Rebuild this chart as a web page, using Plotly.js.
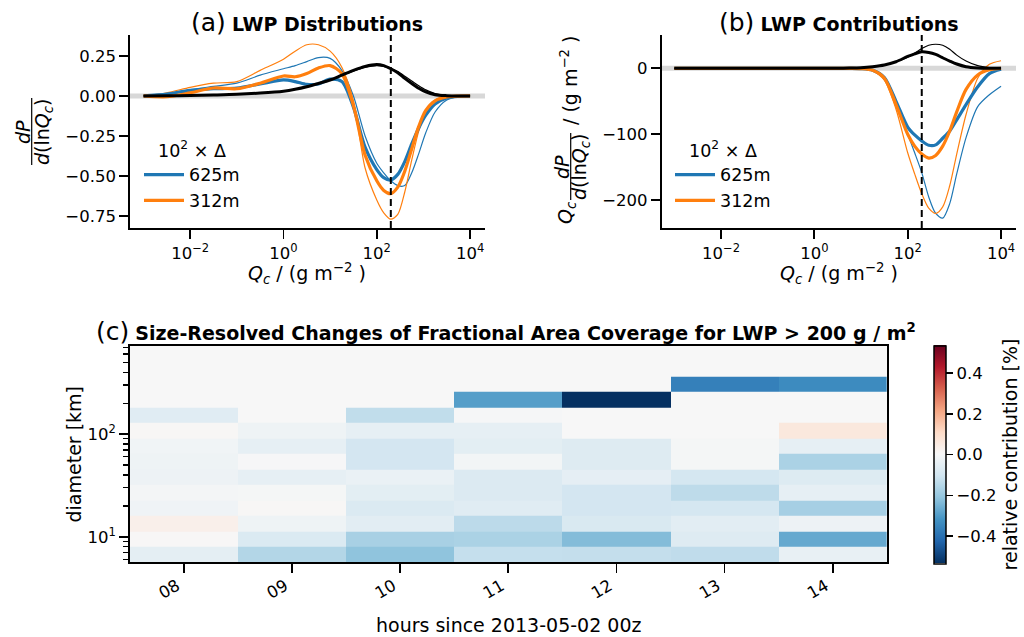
<!DOCTYPE html>
<html><head><meta charset="utf-8">
<script src="https://cdn.plot.ly/plotly-3.0.1.min.js"></script>
<style>html,body{margin:0;padding:0;background:#fff;} #chart{width:1024px;height:637px;}</style>
</head><body><div id="chart"></div>
<script>
// ---------------- data ----------------
const qc = [0.001, 0.00316, 0.01, 0.0316, 0.1, 0.316, 1, 1.78, 3.16, 5.62, 10, 17.8, 31.6, 56.2, 100, 141, 200, 282, 398, 562, 794, 1122, 1778, 3162, 5623, 10000];

// panel (a): dP/dlnQc
const distBlueThick   = [0, 0.012, 0.035, 0.045, 0.05, 0.075, 0.10, 0.09, 0.072, 0.075, 0.105, 0.09, -0.07, -0.32, -0.46, -0.51, -0.525, -0.49, -0.41, -0.30, -0.20, -0.12, -0.05, -0.012, -0.002, 0];
const distOrangeThick = [0, -0.005, 0.02, 0.05, 0.045, 0.08, 0.125, 0.12, 0.14, 0.175, 0.19, 0.14, -0.06, -0.37, -0.53, -0.59, -0.61, -0.57, -0.47, -0.33, -0.19, -0.09, -0.03, -0.006, -0.001, 0];
const distBlueThin    = [0, 0.015, 0.04, 0.06, 0.08, 0.13, 0.17, 0.19, 0.215, 0.24, 0.235, 0.16, 0.0, -0.25, -0.42, -0.48, -0.53, -0.56, -0.56, -0.48, -0.36, -0.23, -0.10, -0.025, -0.004, 0];
const distOrangeThin  = [0, 0.02, 0.054, 0.08, 0.09, 0.16, 0.23, 0.28, 0.32, 0.32, 0.28, 0.18, -0.03, -0.45, -0.65, -0.73, -0.77, -0.74, -0.60, -0.40, -0.22, -0.10, -0.025, -0.005, 0, 0];
const distBlackThick  = [0, 0.001, 0.003, 0.006, 0.01, 0.018, 0.03, 0.042, 0.058, 0.078, 0.1, 0.13, 0.16, 0.185, 0.197, 0.19, 0.17, 0.145, 0.11, 0.078, 0.048, 0.025, 0.008, 0.002, 0, 0];
const distBlackThin   = [0, 0.001, 0.003, 0.006, 0.01, 0.018, 0.03, 0.042, 0.058, 0.078, 0.1, 0.128, 0.155, 0.178, 0.19, 0.185, 0.172, 0.152, 0.124, 0.094, 0.064, 0.038, 0.015, 0.003, 0, 0];

// panel (b): Qc dP/dlnQc
const contBlueThick   = [0, 0, 0, 0, 0, 0, 0, 0, 0, -0.1, -0.5, -3, -14, -50, -89, -101, -110, -116.5, -116, -106, -95, -78, -55, -28, -8, -1.5];
const contOrangeThick = [0, 0, 0, 0, 0, 0, 0, 0, 0, -0.1, -0.5, -3, -15, -55, -100, -118, -130, -136, -132, -118, -95, -66, -32, -10, -2, 0];
const contBlueThin    = [0, 0, 0, 0, 0, 0, 0, 0, 0, -0.1, -0.5, -3, -14, -52, -100, -128, -158, -195, -220, -227, -205, -160, -105, -58, -40, -27];
const contOrangeThin  = [0, 0, 0, 0, 0, 0, 0, 0, 0, -0.1, -0.5, -4, -18, -62, -128, -160, -190, -212, -220, -210, -178, -130, -70, -15, 6, 11.5];
const contBlackThick  = [0, 0, 0, 0, 0, 0, 0, 0, 0.1, 0.4, 1, 2.5, 5, 10, 18, 22, 25, 24, 21, 16, 11, 6.5, 2.5, 0.6, 0.1, 0];
const contBlackThin   = [0, 0, 0, 0, 0, 0, 0, 0, 0.1, 0.4, 1, 2.5, 5, 10, 17, 23, 30, 35, 36.5, 35, 29, 20, 11, 4, 1.2, 0.2];

const lwpThreshold = 200;
const legendNames = ['625m', '312m'];
const qcTickVals = [0.01, 1, 100, 10000];
const qcTickText = ['10<sup>−2</sup>', '10<sup>0</sup>', '10<sup>2</sup>', '10<sup>4</sup>'];
const distTickVals = [-0.75, -0.5, -0.25, 0, 0.25];
const contTickVals = [-200, -100, 0];
const distRange = [-0.825, 0.381];
const contRange = [-242, 50.5];

// panel (c)
const hours = [8, 9, 10, 11, 12, 13, 14];
const hourLabels = ['08', '09', '10', '11', '12', '13', '14'];
const diameterEdges = [5.657, 8, 11.31, 16, 22.63, 32, 45.25, 64, 90.51, 128, 181.0, 256, 362.0, 512, 724.1];
const diamTickVals = [10, 100];
const diamTickText = ['10<sup>1</sup>', '10<sup>2</sup>'];
const diamMinorVals = [6, 7, 8, 9, 20, 30, 40, 50, 60, 70, 80, 90, 200, 300, 400, 500, 600, 700];
// rows: bottom (smallest diameter) to top; columns: hours 08..14
const coverageChange = [
  [-0.054, -0.158, -0.217, -0.127, -0.129, -0.136, -0.042],
  [ 0.003, -0.080, -0.177, -0.172, -0.233, -0.070, -0.274],
  [ 0.030, -0.025, -0.060, -0.143, -0.085, -0.060, -0.028],
  [-0.022,  0.005, -0.080, -0.065, -0.099, -0.096, -0.180],
  [-0.010, -0.008, -0.056, -0.076, -0.099, -0.140, -0.048],
  [-0.028, -0.048, -0.037, -0.076, -0.051, -0.096, -0.073],
  [-0.025, -0.004, -0.099, -0.014, -0.070, -0.008, -0.172],
  [-0.020, -0.048, -0.099, -0.056, -0.070, -0.008, -0.048],
  [ 0.005, -0.025, -0.048, -0.048,  0.000,  0.000,  0.057],
  [-0.065,  0.000, -0.134, -0.005,  0.000,  0.000,  0.000],
  [ 0.000,  0.000,  0.000, -0.297, -0.535,  0.000,  0.000],
  [ 0.000,  0.000,  0.000,  0.000,  0.000, -0.365, -0.340],
  [ 0.000,  0.000,  0.000,  0.000,  0.000,  0.000,  0.000],
  [ 0.000,  0.000,  0.000,  0.000,  0.000,  0.000,  0.000]
];

// ---------------- styling ----------------
const W = 1024, H = 637;
const X = px => px / W, Y = py => 1 - py / H;
const BLUE = '#1f77b4', ORANGE = '#ff7f0e', BLACK = '#000000';
const RdBu_r = [[0,'#053061'],[0.1,'#2166ac'],[0.2,'#4393c3'],[0.3,'#92c5de'],[0.4,'#d1e5f0'],[0.5,'#f7f7f7'],[0.6,'#fddbc7'],[0.7,'#f4a582'],[0.8,'#d6604d'],[0.9,'#b2182b'],[1,'#67001f']];
const zAbsMax = Math.max(...coverageChange.flat().map(Math.abs));

function lineTrace(y, color, width, xa, ya, opts) {
  return Object.assign({type:'scatter', mode:'lines', x:qc, y:y, xaxis:xa, yaxis:ya,
    line:{color:color, width:width, shape:'spline', smoothing:0.8}, showlegend:false, hoverinfo:'skip'}, opts || {});
}
function panelTraces(set, xa, ya, legendId, range) {
  return [
    lineTrace(set.blueThin, BLUE, 1.2, xa, ya),
    lineTrace(set.orangeThin, ORANGE, 1.2, xa, ya),
    lineTrace(set.blueThick, BLUE, 3.2, xa, ya, {name:legendNames[0], showlegend:true, legend:legendId, legendgroup:legendId + 'a'}),
    lineTrace(set.orangeThick, ORANGE, 3.2, xa, ya, {name:legendNames[1], showlegend:true, legend:legendId, legendgroup:legendId + 'b'}),
    lineTrace(set.blackThin, BLACK, 1.2, xa, ya),
    lineTrace(set.blackThick, BLACK, 3.0, xa, ya),
    {type:'scatter', mode:'lines', x:[lwpThreshold, lwpThreshold], y:range, xaxis:xa, yaxis:ya,
     line:{color:BLACK, width:2, dash:'7px,4px'}, showlegend:false, hoverinfo:'skip'}
  ];
}

const traces = [].concat(
  panelTraces({blueThin:distBlueThin, orangeThin:distOrangeThin, blueThick:distBlueThick, orangeThick:distOrangeThick, blackThin:distBlackThin, blackThick:distBlackThick}, 'x', 'y', 'legend', distRange),
  panelTraces({blueThin:contBlueThin, orangeThin:contOrangeThin, blueThick:contBlueThick, orangeThick:contOrangeThick, blackThin:contBlackThin, blackThick:contBlackThick}, 'x2', 'y2', 'legend2', contRange),
  [{type:'heatmap', x:hours, y:diameterEdges, z:coverageChange, xaxis:'x3', yaxis:'y3',
    colorscale:RdBu_r, zmin:-zAbsMax, zmax:zAbsMax, hoverinfo:'skip',
    colorbar:{thickness:12, thicknessmode:'pixels', len:218, lenmode:'pixels',
      x:X(934), xanchor:'left', y:Y(454.5), yanchor:'middle', xpad:0, ypad:0,
      outlinewidth:1.5, outlinecolor:BLACK, ticks:'outside', ticklen:7, tickwidth:1.5, tickcolor:BLACK,
      tickmode:'array', tickvals:[-0.4,-0.2,0,0.2,0.4], tickformat:'.1f', tickfont:{size:16.5},
      title:{text:'relative contribution [%]', side:'right', font:{size:19}}}}]
);

const axBase = {showline:true, linecolor:BLACK, linewidth:1.8, ticks:'outside', ticklen:9, tickwidth:1.8,
  tickcolor:BLACK, showgrid:false, zeroline:false, tickfont:{size:16.5, color:BLACK}, fixedrange:true};

const legendBase = {xanchor:'left', yanchor:'top', bgcolor:'rgba(0,0,0,0)', borderwidth:0,
  font:{size:17.5}, traceorder:'normal', tracegroupgap:4, itemwidth:40,
  title:{text:'10<sup>2</sup> × Δ', side:'top center', font:{size:17.5}}};

const ann = (x, y, text, size, extra) => Object.assign({xref:'paper', yref:'paper', x:X(x), y:Y(y), text:text,
  showarrow:false, xanchor:'center', yanchor:'middle', font:{size:size, color:BLACK}}, extra || {});
const rot = {textangle:-90};
const qcLabel = '<i>Q</i><sub><i>c</i></sub> / (g m<sup>−2</sup> )';
const dlnq = '<i>d</i>(ln<i>Q</i><sub><i>c</i></sub>)';

const layout = {
  width:W, height:H, margin:{l:0, r:0, t:0, b:0}, paper_bgcolor:'white', plot_bgcolor:'white',
  font:{family:'DejaVu Sans', color:BLACK},
  xaxis: Object.assign({}, axBase, {type:'log', domain:[X(130), X(485)], range:[-3.29, 4.32], anchor:'y',
    tickmode:'array', tickvals:qcTickVals, ticktext:qcTickText}),
  yaxis: Object.assign({}, axBase, {domain:[Y(228), Y(35)], range:distRange, anchor:'x',
    tickmode:'array', tickvals:distTickVals, tickformat:'.2f'}),
  xaxis2: Object.assign({}, axBase, {type:'log', domain:[X(661.7), X(1016)], range:[-3.27, 4.32], anchor:'y2',
    tickmode:'array', tickvals:qcTickVals, ticktext:qcTickText}),
  yaxis2: Object.assign({}, axBase, {domain:[Y(228), Y(35)], range:contRange, anchor:'x2',
    tickmode:'array', tickvals:contTickVals}),
  xaxis3: Object.assign({}, axBase, {domain:[X(130), X(886.7)], range:[7.5, 14.5], anchor:'y3', mirror:true,
    tickmode:'array', tickvals:hours, ticktext:hourLabels, tickangle:-30, ticklabelshift:-7, ticklabelstandoff:-3}),
  yaxis3: Object.assign({}, axBase, {type:'log', domain:[Y(562.3), Y(345.7)],
    range:[Math.log10(diameterEdges[0]), Math.log10(diameterEdges[diameterEdges.length-1])], anchor:'x3', mirror:true,
    tickmode:'array', tickvals:diamTickVals, ticktext:diamTickText,
    minor:{tickmode:'array', tickvals:diamMinorVals, ticks:'outside', ticklen:5, tickwidth:1.2, tickcolor:BLACK, showgrid:false}}),
  legend: Object.assign({}, legendBase, {x:X(139), y:Y(134)}),
  legend2: Object.assign({}, legendBase, {x:X(670), y:Y(134)}),
  shapes: [
    {type:'line', xref:'x domain', yref:'y', x0:0, x1:1, y0:0, y1:0, layer:'below', line:{color:'#d8d8d8', width:5}},
    {type:'line', xref:'x2 domain', yref:'y2', x0:0, x1:1, y0:0, y1:0, layer:'below', line:{color:'#d8d8d8', width:5}},
    {type:'line', xref:'paper', yref:'paper', x0:X(31.7), x1:X(31.7), y0:Y(98), y1:Y(165), line:{color:BLACK, width:1.2}},
    {type:'line', xref:'paper', yref:'paper', x0:X(570.7), x1:X(570.7), y0:Y(133), y1:Y(200), line:{color:BLACK, width:1.2}}
  ],
  annotations: [
    ann(307, 22, '<span style="font-size:25px">(a)</span> <b>LWP Distributions</b>', 19),
    ann(839, 22, '<span style="font-size:25px">(b)</span> <b>LWP Contributions</b>', 19),
    ann(506, 331, '<span style="font-size:25px">(c)</span> <b>Size-Resolved Changes of Fractional Area Coverage for LWP &gt; 200 g / m<sup>2</sup></b>', 19),
    ann(307, 274, qcLabel, 19),
    ann(839, 274, qcLabel, 19),
    ann(23, 132, '<i>dP</i>', 19, rot),
    ann(43, 132, dlnq, 19, rot),
    ann(566, 213, '<i>Q</i><sub><i>c</i></sub>', 19, rot),
    ann(562, 167, '<i>dP</i>', 19, rot),
    ann(580, 167, dlnq, 19, rot),
    ann(569, 80, '/ (g m<sup>−2</sup> )', 19, rot),
    ann(508, 625, 'hours since 2013-05-02 00z', 19),
    ann(73.5, 454, 'diameter [km]', 19, rot)
  ],
  hovermode:false
};

Plotly.newPlot('chart', traces, layout, {staticPlot:true, displayModeBar:false});
</script>
</body></html>
